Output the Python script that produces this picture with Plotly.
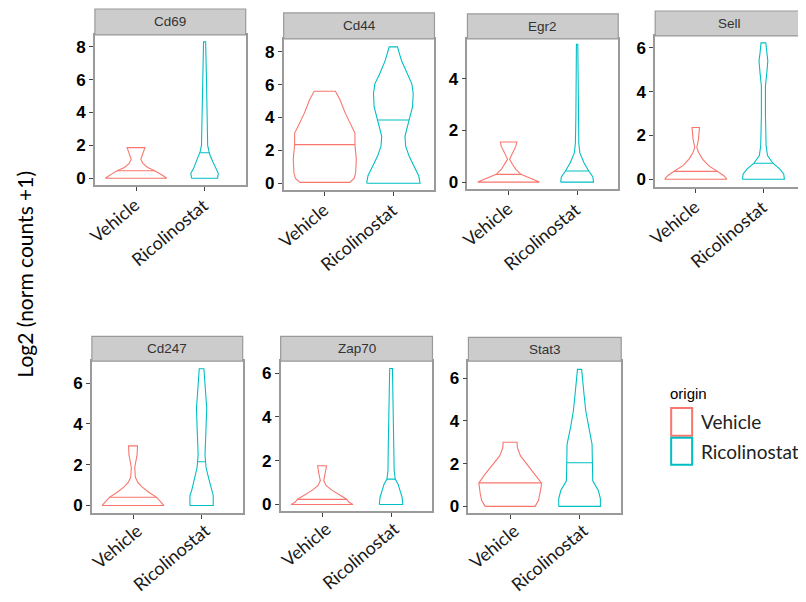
import numpy as np
import plotly.graph_objects as go

# page body has an 8px margin: figure is drawn 8px right/down of the window origin
OFF = 8
W, H = 798, 594
RED = "#F8766D"
CYAN = "#00BFC4"

genes = ["Cd69", "Cd44", "Egr2", "Sell", "Cd247", "Zap70", "Stat3"]
groups = ["Vehicle", "Ricolinostat"]
tick_labels = ["Vehicle", "Ricolinostat"]

# violin outlines: value levels (y) and half-widths (w)
cd69_veh_y = [0, 0.2, 0.4, 0.5, 0.65, 0.9, 1.15, 1.5, 1.86]
cd69_veh_w = [0.45, 0.38, 0.3, 0.25, 0.17, 0.1, 0.07, 0.1, 0.13]
cd69_ric_y = [0, 0.3, 0.6, 1.0, 1.4, 1.6, 2.0, 3, 4, 5, 6, 7, 8, 8.3]
cd69_ric_w = [0.19, 0.2, 0.16, 0.12, 0.08, 0.066, 0.045, 0.04, 0.036, 0.032, 0.028, 0.024, 0.018, 0.015]

cd44_veh_y = [0.05, 0.3, 0.65, 1.45, 2.35, 3.05, 3.55, 4.25, 5.1, 5.6]
cd44_veh_w = [0.365, 0.43, 0.45, 0.46, 0.44, 0.44, 0.38, 0.3, 0.22, 0.155]
cd44_ric_y = [0, 0.45, 1.05, 1.65, 2.25, 2.85, 3.35, 3.85, 4.65, 5.45, 6.05, 6.65, 7.45, 8.3]
cd44_ric_w = [0.39, 0.37, 0.3, 0.23, 0.18, 0.17, 0.2, 0.23, 0.28, 0.29, 0.27, 0.2, 0.12, 0.06]

egr2_veh_y = [0, 0.1, 0.3, 0.49, 0.68, 0.88, 1.13, 1.39, 1.55]
egr2_veh_w = [0.45, 0.36, 0.18, 0.107, 0.058, 0.015, 0.058, 0.107, 0.12]
egr2_ric_y = [0, 0.2, 0.43, 0.75, 1.13, 1.5, 2.5, 3.5, 4.5, 5.33]
egr2_ric_w = [0.24, 0.23, 0.17, 0.1, 0.04, 0.025, 0.018, 0.015, 0.012, 0.01]

sell_veh_y = [0, 0.17, 0.36, 0.62, 0.92, 1.23, 1.45, 1.83, 2.36]
sell_veh_w = [0.46, 0.41, 0.32, 0.19, 0.1, 0.04, 0.015, 0.04, 0.055]
sell_ric_y = [0, 0.24, 0.47, 0.73, 1.08, 1.53, 2.9, 4.26, 4.86, 5.4, 5.77, 6.23]
sell_ric_w = [0.31, 0.3, 0.24, 0.14, 0.06, 0.04, 0.03, 0.03, 0.05, 0.065, 0.05, 0.035]

cd247_veh_y = [0, 0.24, 0.4, 0.65, 0.9, 1.13, 1.38, 1.86, 2.1, 2.5, 2.92]
cd247_veh_w = [0.45, 0.39, 0.345, 0.23, 0.135, 0.07, 0.034, 0.025, 0.04, 0.06, 0.065]
cd247_ric_y = [0, 0.49, 0.73, 1.38, 1.86, 2.14, 2.5, 3.8, 4.78, 5.43, 6.08, 6.7]
cd247_ric_w = [0.17, 0.17, 0.145, 0.1, 0.065, 0.058, 0.05, 0.065, 0.075, 0.06, 0.05, 0.034]

zap70_veh_y = [0, 0.1, 0.23, 0.41, 0.63, 0.86, 1.09, 1.39, 1.77]
zap70_veh_w = [0.45, 0.39, 0.36, 0.27, 0.15, 0.06, 0.025, 0.045, 0.065]
zap70_ric_y = [0, 0.33, 0.63, 0.94, 1.16, 1.54, 2.75, 4.26, 5.0, 6.22]
zap70_ric_w = [0.17, 0.16, 0.13, 0.1, 0.06, 0.045, 0.04, 0.03, 0.025, 0.02]

stat3_veh_y = [0, 0.28, 0.59, 0.97, 1.1, 1.51, 1.98, 2.36, 2.75, 3.0]
stat3_veh_w = [0.36, 0.41, 0.43, 0.45, 0.45, 0.36, 0.24, 0.15, 0.105, 0.1]
stat3_ric_y = [0, 0.36, 0.74, 1.2, 1.82, 2.04, 2.9, 3.68, 4.45, 5.22, 6.0, 6.41]
stat3_ric_w = [0.3, 0.3, 0.27, 0.19, 0.185, 0.185, 0.18, 0.13, 0.09, 0.065, 0.04, 0.03]

median_vehicle = [0.45, 2.35, 0.3, 0.36, 0.4, 0.23, 1.1]
median_ricolinostat = [1.55, 3.85, 0.43, 0.73, 2.14, 1.16, 2.04]

profiles = [
    [(cd69_veh_y, cd69_veh_w), (cd69_ric_y, cd69_ric_w)],
    [(cd44_veh_y, cd44_veh_w), (cd44_ric_y, cd44_ric_w)],
    [(egr2_veh_y, egr2_veh_w), (egr2_ric_y, egr2_ric_w)],
    [(sell_veh_y, sell_veh_w), (sell_ric_y, sell_ric_w)],
    [(cd247_veh_y, cd247_veh_w), (cd247_ric_y, cd247_ric_w)],
    [(zap70_veh_y, zap70_veh_w), (zap70_ric_y, zap70_ric_w)],
    [(stat3_veh_y, stat3_veh_w), (stat3_ric_y, stat3_ric_w)],
]
medians = [median_vehicle, median_ricolinostat]
colors = [RED, CYAN]

# panel layout in window pixels: x0, x1, strip_top, strip_bottom, plot_bottom, ymin, ymax
panels = [
    (95, 246, 9, 35, 186, -0.42, 8.73),
    (284, 435, 13, 39, 191, -0.42, 8.79),
    (468, 619, 14, 39, 190, -0.27, 5.54),
    (656, 805, 11, 36, 188, -0.36, 6.55),
    (92, 243, 338, 363, 516, -0.39, 7.07),
    (281, 433, 338, 363, 514, -0.32, 6.55),
    (469, 622, 339, 363, 516, -0.33, 6.79),
]
# label corner offsets (pixels right of tick, below axis) per panel
lab_off = [(9, 7), (9, 7), (9, 7), (9, 7), (14, 4), (14, 4), (14, 4)]


def px(x):
    return (x - OFF) / W


def py(y):
    return 1 - (y - OFF) / H


fig = go.Figure()
shapes = []
annotations = []
layout = {}

LABEL_FONT = dict(family="Lato", size=18, color="#1a1a1a")

for i, gene in enumerate(genes):
    k = i + 1
    xs = "" if k == 1 else str(k)
    x0, x1, st, sb, pb, ymin, ymax = panels[i]
    for g in range(2):
        yv, wv = profiles[i][g]
        yv = np.array(yv, float)
        wv = np.array(wv, float)
        c = g + 1
        xo = np.concatenate([c - wv, (c + wv)[::-1], [c - wv[0]]])
        yo = np.concatenate([yv, yv[::-1], [yv[0]]])
        fig.add_trace(go.Scatter(x=xo, y=yo, mode="lines",
                                 line=dict(color=colors[g], width=1.1),
                                 xaxis="x" + xs, yaxis="y" + xs,
                                 showlegend=False, hoverinfo="skip"))
        m = medians[g][i]
        hw = float(np.interp(m, yv, wv))
        fig.add_trace(go.Scatter(x=[c - hw, c + hw], y=[m, m], mode="lines",
                                 line=dict(color=colors[g], width=1.1),
                                 xaxis="x" + xs, yaxis="y" + xs,
                                 showlegend=False, hoverinfo="skip"))
        # rotated category label, its end anchored just below the tick
        tick_px = x0 + (c - 0.4) / 2.2 * (x1 - x0)
        dx, dy = lab_off[i]
        annotations.append(dict(xref="paper", yref="paper",
                                x=px(tick_px + dx), y=py(pb + dy),
                                text=tick_labels[g], textangle=-40, showarrow=False,
                                borderpad=0,
                                xanchor="right", yanchor="top", font=LABEL_FONT))
    layout["xaxis" + xs] = dict(
        domain=[px(x0), px(x1)], anchor="y" + xs, range=[0.4, 2.6],
        tickvals=[1, 2], showticklabels=False,
        ticks="outside", ticklen=4, tickcolor="#444", tickwidth=1,
        showline=True, mirror=True, linecolor="#9a9a9a", linewidth=1.5,
        showgrid=False, zeroline=False, fixedrange=True)
    layout["yaxis" + xs] = dict(
        domain=[py(pb), py(sb)], anchor="x" + xs, range=[ymin, ymax],
        dtick=2, tick0=0,
        tickfont=dict(family="Liberation Sans", size=17, color="black", weight="bold"),
        ticks="outside", ticklen=4, tickcolor="#444", tickwidth=1,
        showline=True, mirror=True, linecolor="#9a9a9a", linewidth=1.5,
        showgrid=False, zeroline=False, fixedrange=True)
    shapes.append(dict(type="rect", xref="paper", yref="paper",
                       x0=px(x0), x1=px(x1), y0=py(sb), y1=py(st),
                       fillcolor="#CCCCCC", line=dict(color="#9a9a9a", width=1.2)))
    annotations.append(dict(xref="paper", yref="paper", x=px((x0 + x1) / 2),
                            y=py((st + sb) / 2), text=gene, showarrow=False,
                            font=dict(family="Liberation Sans", size=13.5, color="#333"),
                            xanchor="center", yanchor="middle"))

# y title
annotations.append(dict(xref="paper", yref="paper", x=px(25), y=py(275),
                        text="Log2 (norm counts +1)", textangle=-90, showarrow=False,
                        font=dict(family="Lato", size=21, color="black"),
                        xanchor="center", yanchor="middle"))

# legend
annotations.append(dict(xref="paper", yref="paper", x=px(669), y=py(395),
                        text="origin", showarrow=False, xanchor="left", yanchor="middle",
                        font=dict(family="Liberation Sans", size=15, color="black")))
leg_boxes = [(410, 438), (440, 467)]
for g in range(2):
    t, b = leg_boxes[g]
    shapes.append(dict(type="rect", xref="paper", yref="paper",
                       x0=px(672), x1=px(693), y0=py(b), y1=py(t),
                       fillcolor="white", line=dict(color=colors[g], width=2)))
    annotations.append(dict(xref="paper", yref="paper", x=px(700), y=py((t + b) / 2),
                            text=groups[g], showarrow=False, xanchor="left", yanchor="middle",
                            font=dict(family="Lato", size=19, color="#222")))

fig.update_layout(width=W, height=H, autosize=False,
                  margin=dict(l=0, r=0, t=0, b=0),
                  paper_bgcolor="white", plot_bgcolor="white",
                  shapes=shapes, annotations=annotations, showlegend=False,
                  **layout)

fig.write_html("out.html")
